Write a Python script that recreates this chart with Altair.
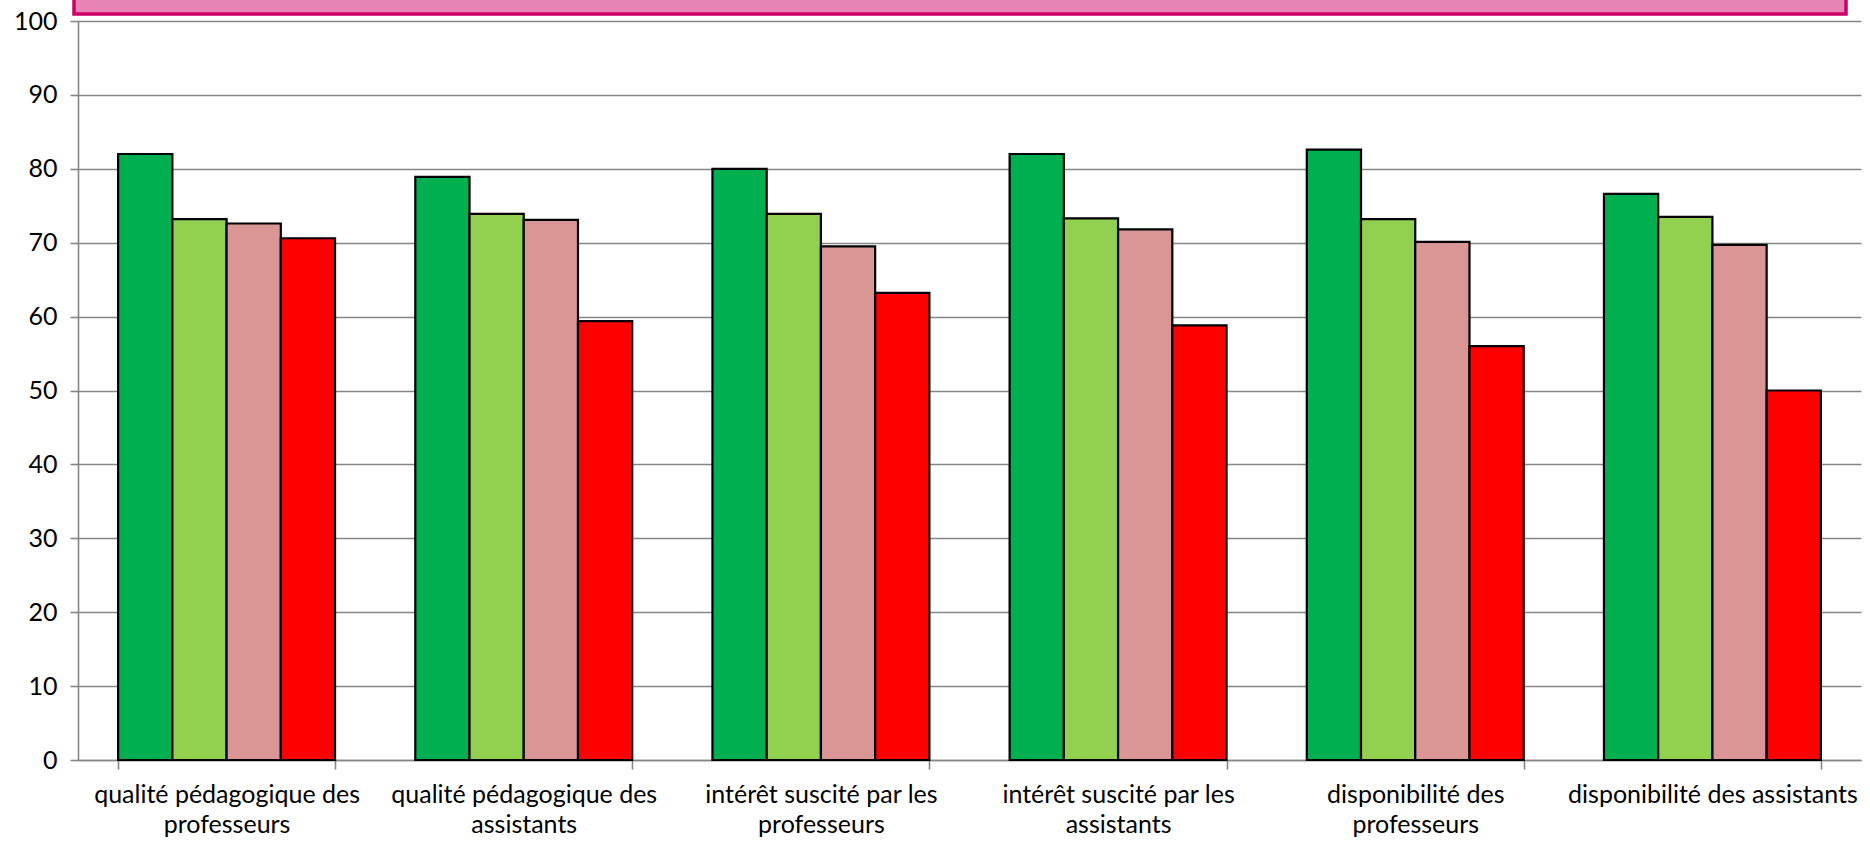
import altair as alt
import pandas as pd

# Category labels (line breaks where the axis wraps them)
categories = [
    "qualité pédagogique des\nprofesseurs",
    "qualité pédagogique des\nassistants",
    "intérêt suscité par les\nprofesseurs",
    "intérêt suscité par les\nassistants",
    "disponibilité des\nprofesseurs",
    "disponibilité des assistants",
]

series = ["Série 1", "Série 2", "Série 3", "Série 4"]
series_colors = ["#00B050", "#92D050", "#D99694", "#FF0000"]

serie_1 = [82.0, 78.9, 80.0, 82.0, 82.6, 76.6]
serie_2 = [73.2, 73.9, 73.9, 73.3, 73.2, 73.5]
serie_3 = [72.6, 73.1, 69.5, 71.8, 70.1, 69.7]
serie_4 = [70.6, 59.4, 63.2, 58.8, 56.0, 50.0]

y_ticks = list(range(0, 101, 10))

rows = []
for name, vals in zip(series, [serie_1, serie_2, serie_3, serie_4]):
    for cat, v in zip(categories, vals):
        rows.append({"categorie": cat, "serie": name, "valeur": v})
df = pd.DataFrame(rows)

FONT = "Lato"
GRID = "#868686"

bars = alt.Chart(df).mark_bar(stroke="black", strokeWidth=2.2).encode(
    x=alt.X(
        "categorie:N",
        sort=categories,
        title=None,
        scale=alt.Scale(paddingInner=0.27, paddingOuter=0.135),
        axis=alt.Axis(
            labelAngle=0,
            labelExpr="split(datum.label, '\\n')",
            labelFont=FONT,
            labelFontSize=25,
            labelColor="black",
            labelLineHeight=30,
            labelPadding=13,
            labelLimit=400,
            tickBand="extent",
            tickSize=9,
            tickColor=GRID,
            tickWidth=1.6,
            domainColor=GRID,
            domainWidth=1.6,
            grid=False,
        ),
    ),
    xOffset=alt.XOffset("serie:N", sort=series, scale=alt.Scale(paddingInner=0, paddingOuter=0)),
    y=alt.Y(
        "valeur:Q",
        title=None,
        scale=alt.Scale(domain=[0, 100], nice=False),
        axis=alt.Axis(
            values=y_ticks,
            labelFont=FONT,
            labelFontSize=25,
            labelColor="black",
            labelPadding=13,
            tickSize=8,
            tickColor=GRID,
            tickWidth=1.6,
            domainColor=GRID,
            domainWidth=1.6,
            gridColor=GRID,
            gridWidth=1.6,
        ),
    ),
    color=alt.Color(
        "serie:N",
        sort=series,
        scale=alt.Scale(domain=series, range=series_colors),
        legend=None,
    ),
)

# Pink framed banner running along the top edge
banner = alt.Chart(alt.Data(values=[{}])).mark_rect(
    fill="#E884B5", stroke="#CC0066", strokeWidth=3.5
).encode(
    x=alt.value(-4),
    x2=alt.value(1768),
    y=alt.value(-60),
    y2=alt.value(-7),
)

chart = alt.layer(bars, banner).properties(
    width=1783,
    height=739,
    autosize=alt.AutoSizeParams(type="none"),
    padding={"left": 78, "top": 21, "right": 9, "bottom": 81},
    background="white",
).configure_view(stroke=None)

chart.save("out.html", embed_options={"renderer": "svg", "actions": False})
